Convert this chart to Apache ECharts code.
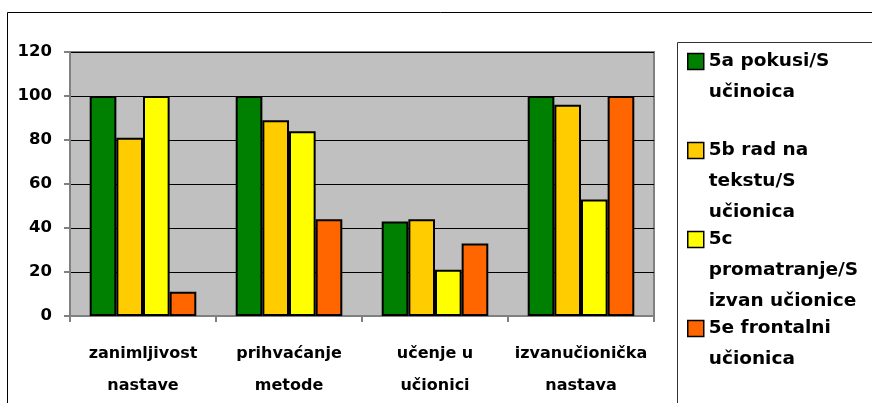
<!DOCTYPE html>
<html><head><meta charset="utf-8">
<script src="https://cdn.jsdelivr.net/npm/echarts@6/dist/echarts.min.js"></script>
<style>html,body{margin:0;padding:0;background:#fff;}#c{width:872px;height:403px;}</style>
</head><body><div id="c"></div>
<script>
const categories = ['zanimljivost\nnastave', 'prihvaćanje\nmetode', 'učenje u\nučionici', 'izvanučionička\nnastava'];
const seriesNames = ['5a pokusi/S\nučinoica', '5b rad na\ntekstu/S\nučionica', '5c\npromatranje/S\nizvan učionice', '5e frontalni\nučionica'];
const s5a = [100, 100, 43, 100];
const s5b = [81, 89, 44, 96];
const s5c = [100, 84, 21, 53];
const s5e = [11, 44, 33, 100];
const yTicks = [0, 20, 40, 60, 80, 100, 120];
const colors = ['#008000', '#FFCC00', '#FFFF00', '#FF6600'];
const values = [s5a, s5b, s5c, s5e];

const FONT = 'DejaVu Sans';
const LH = 31;
const legendTops = [15, 73, 162, 282];

const chart = echarts.init(document.getElementById('c'));
const legends = seriesNames.map((n, i) => {
  const lines = n.split('\n').length;
  return {
    data: [n],
    left: 687,
    top: legendTops[i],
    orient: 'vertical',
    padding: 0,
    itemWidth: 16,
    itemHeight: 16,
    icon: 'rect',
    selectedMode: false,
    itemStyle: { borderColor: '#000', borderWidth: 1.5 },
    formatter: (name) => '\n'.repeat(lines - 1) + name,
    textStyle: { fontFamily: FONT, fontWeight: 'bold', fontSize: 18.5, lineHeight: LH, color: '#000' }
  };
});

chart.setOption({
  animation: false,
  backgroundColor: '#fff',
  graphic: [
    { type: 'rect', shape: { x: 7.5, y: 12.5, width: 900, height: 500 }, style: { fill: 'none', stroke: '#000', lineWidth: 1 }, z: -10 },
    { type: 'rect', shape: { x: 677.5, y: 42.5, width: 300, height: 500 }, style: { fill: '#fff', stroke: '#333', lineWidth: 1 }, z: -5 }
  ],
  legend: legends,
  grid: { left: 70, top: 52, right: 218, bottom: 87, show: true, backgroundColor: '#C0C0C0', borderColor: '#808080', borderWidth: 2 },
  xAxis: {
    type: 'category',
    data: categories,
    axisLine: { show: true, lineStyle: { color: '#808080', width: 2 } },
    axisTick: { show: true, length: 6, alignWithLabel: false, lineStyle: { color: '#808080', width: 2 } },
    axisLabel: { interval: 0, margin: 22, fontFamily: FONT, fontWeight: 'bold', fontSize: 16, lineHeight: 32, color: '#000' },
    splitLine: { show: false }
  },
  yAxis: {
    type: 'value',
    min: yTicks[0],
    max: yTicks[yTicks.length - 1],
    interval: yTicks[1] - yTicks[0],
    axisLine: { show: true, lineStyle: { color: '#808080', width: 2 } },
    axisTick: { show: true, length: 6, lineStyle: { color: '#808080', width: 2 } },
    axisLabel: { margin: 18, fontFamily: FONT, fontWeight: 'bold', fontSize: 16.5, color: '#000' },
    splitLine: { show: true, lineStyle: { color: '#000', width: 1 } }
  },
  series: seriesNames.map((n, i) => ({
    name: n,
    type: 'bar',
    data: values[i],
    barGap: '0%',
    barCategoryGap: '27%',
    itemStyle: { color: colors[i], borderColor: '#000', borderWidth: 2 }
  }))
});
</script></body></html>
